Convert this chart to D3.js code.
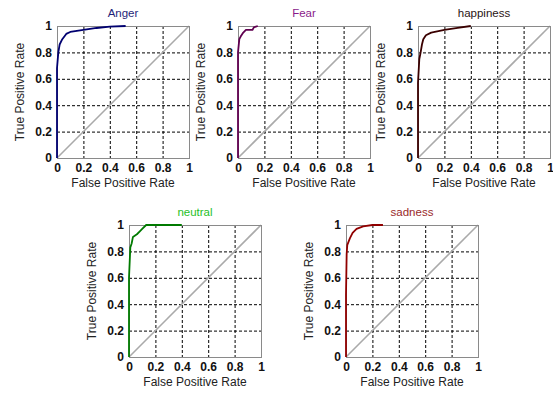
<!DOCTYPE html>
<html>
<head>
<meta charset="utf-8">
<script src="https://cdn.jsdelivr.net/npm/d3@7"></script>
<style>
  body { margin: 0; background: #fff; }
  text { font-family: Arial, "Liberation Sans", sans-serif; }
</style>
</head>
<body>
<div id="chart"></div>
<script>
// panel names, in drawing order
const emotions = ["Anger", "Fear", "happiness", "neutral", "sadness"];
const titleColors = ["#1f1f7a", "#8a1a8a", "#2a1414", "#1fbf1f", "#9a2a2a"];
const curveColors = ["#000070", "#600050", "#3a0000", "#007a00", "#900000"];
const ticks = [0, 0.2, 0.4, 0.6, 0.8, 1];
const tickLabels = ["0", "0.2", "0.4", "0.6", "0.8", "1"];

// ROC curves: [FPR, TPR]
const angerRoc = [[0,0],[0,0.45],[0,0.68],[0.01,0.8],[0.02,0.86],[0.04,0.9],[0.07,0.94],[0.1,0.955],[0.2,0.97],[0.3,0.985],[0.4,0.995],[0.52,1]];
const fearRoc = [[0,0],[0,0.8],[0.01,0.9],[0.02,0.92],[0.04,0.95],[0.06,0.97],[0.11,0.97],[0.12,0.99],[0.15,1]];
const happinessRoc = [[0,0],[0,0.57],[0.01,0.75],[0.02,0.8],[0.03,0.86],[0.04,0.9],[0.06,0.93],[0.1,0.95],[0.2,0.97],[0.3,0.985],[0.4,1]];
const neutralRoc = [[0,0],[0,0.6],[0.01,0.83],[0.02,0.86],[0.03,0.91],[0.06,0.93],[0.08,0.95],[0.1,0.97],[0.13,1],[0.4,1]];
const sadnessRoc = [[0,0],[0,0.47],[0.005,0.78],[0.01,0.85],[0.03,0.9],[0.05,0.94],[0.08,0.97],[0.13,0.99],[0.2,1],[0.28,1]];
const rocs = [angerRoc, fearRoc, happinessRoc, neutralRoc, sadnessRoc];

// where each plot box sits
const panels = [
  {left: 57, top: 26},
  {left: 238, top: 26},
  {left: 418, top: 26},
  {left: 129, top: 225},
  {left: 346, top: 225}
];
const size = 132;

const svg = d3.select("#chart").append("svg")
  .attr("width", 553)
  .attr("height", 394);

const x = d3.scaleLinear().domain([0, 1]).range([0, size]);
const y = d3.scaleLinear().domain([0, 1]).range([size, 0]);

const line = d3.line().x(d => x(d[0])).y(d => y(d[1]));

emotions.forEach((name, i) => {
  const p = panels[i];
  const g = svg.append("g").attr("transform", `translate(${p.left},${p.top})`);

  // dashed grid
  g.append("g")
    .selectAll("line.gx")
    .data(ticks.slice(1, -1))
    .join("line")
      .attr("x1", d => x(d) + 0.5).attr("x2", d => x(d) + 0.5)
      .attr("y1", 0).attr("y2", size)
      .attr("stroke", "#000").attr("stroke-dasharray", "3,2");
  g.append("g")
    .selectAll("line.gy")
    .data(ticks.slice(1, -1))
    .join("line")
      .attr("y1", d => y(d) + 0.5).attr("y2", d => y(d) + 0.5)
      .attr("x1", 0).attr("x2", size)
      .attr("stroke", "#000").attr("stroke-dasharray", "3,2");

  // chance line
  g.append("path")
    .attr("d", line([[0, 0], [1, 1]]))
    .attr("stroke", "#aaa").attr("stroke-width", 1.6).attr("fill", "none");

  // box
  g.append("rect")
    .attr("x", 0.5).attr("y", 0.5)
    .attr("width", size).attr("height", size)
    .attr("fill", "none").attr("stroke", "#8a8a8a");

  // roc curve
  g.append("path")
    .attr("d", line(rocs[i]))
    .attr("stroke", curveColors[i]).attr("stroke-width", 1.8)
    .attr("fill", "none").attr("stroke-linejoin", "round");

  // axes, drawn with d3 axis but no domain/ticks
  const xAxis = g.append("g")
    .attr("transform", `translate(0,${size})`)
    .call(d3.axisBottom(x).tickValues(ticks).tickFormat((d, k) => tickLabels[k]).tickSize(0).tickPadding(5));
  const yAxis = g.append("g")
    .call(d3.axisLeft(y).tickValues(ticks).tickFormat((d, k) => tickLabels[k]).tickSize(0).tickPadding(5));
  [xAxis, yAxis].forEach(a => {
    a.select(".domain").remove();
    a.selectAll("text")
      .attr("font-size", 12).attr("font-weight", "bold")
      .attr("font-family", "Arial, 'Liberation Sans', sans-serif")
      .attr("fill", "#111");
  });

  g.append("text")
    .attr("x", size / 2).attr("y", size + 29)
    .attr("text-anchor", "middle")
    .attr("font-size", 12).attr("fill", "#222")
    .text("False Positive Rate");

  g.append("text")
    .attr("transform", `translate(-33,${size / 2}) rotate(-90)`)
    .attr("text-anchor", "middle")
    .attr("font-size", 12).attr("fill", "#222")
    .text("True Positive Rate");

  g.append("text")
    .attr("x", size / 2).attr("y", -9)
    .attr("text-anchor", "middle")
    .attr("font-size", 11.5).attr("fill", titleColors[i])
    .text(name);
});
</script>
</body>
</html>
